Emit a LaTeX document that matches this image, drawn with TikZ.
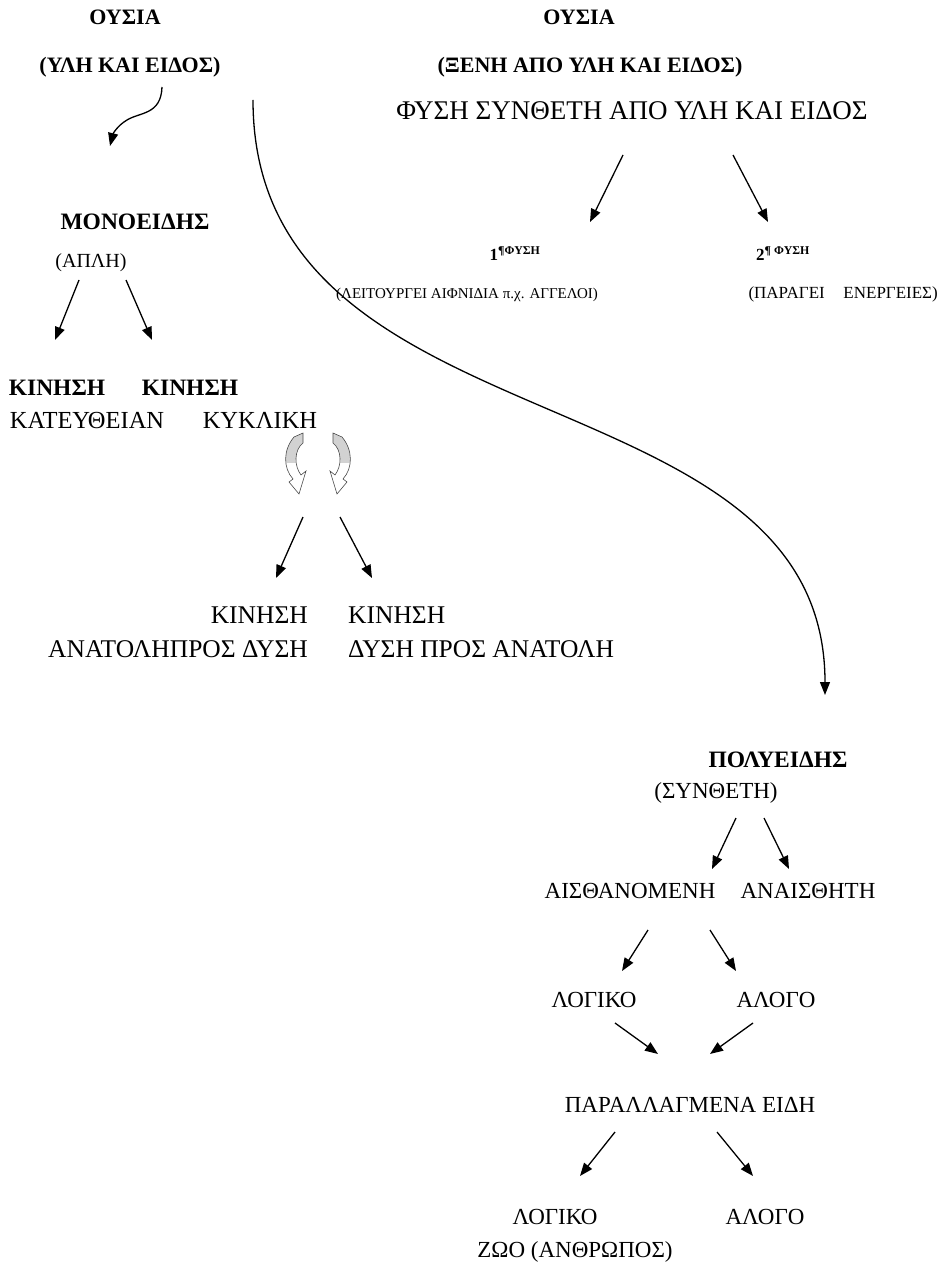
\documentclass[tikz,border=0pt]{standalone}
\usepackage{fontspec}
\setmainfont{Liberation Serif}
\usetikzlibrary{arrows.meta}

\tikzset{
  arr/.style={-{Triangle[length=13pt,width=10pt]}, line width=1.3pt},
  lbl/.style={inner sep=0pt, text height=1em, text depth=0pt},
  txt/.style={lbl, font=\fontsize{23}{27}\selectfont},
  midtxt/.style={lbl, font=\fontsize{24.5}{28}\selectfont},
  bigtxt/.style={lbl, font=\fontsize{25.5}{29}\selectfont},
  toptxt/.style={lbl, font=\fontsize{27}{31}\selectfont},
  smalltxt/.style={lbl, font=\fontsize{20}{24}\selectfont},
  boldtxt/.style={lbl, font=\fontsize{22}{26}\selectfont\bfseries},
  headtxt/.style={lbl, font=\fontsize{23.5}{27}\selectfont\bfseries},
  notetxt/.style={lbl, font=\fontsize{15}{18}\selectfont},
  numtxt/.style={lbl, font=\fontsize{17}{20}\selectfont\bfseries},
}

\begin{document}
\begin{tikzpicture}[x=1pt,y=-1pt]

\useasboundingbox (0,0) rectangle (944,1265);

% DRAW THE TWO "OUSIA" HEADS
\node[boldtxt] (ousiaL) at (125,20) {ΟΥΣΙΑ};
\node[boldtxt] (ylieidos) at (130,68) {(ΥΛΗ ΚΑΙ ΕΙΔΟΣ)};
\node[boldtxt] (ousiaR) at (579,20) {ΟΥΣΙΑ};
\node[boldtxt] (xeni) at (590,68) {(ΞΕΝΗ ΑΠΟ ΥΛΗ ΚΑΙ ΕΙΔΟΣ)};
\node[toptxt] (fysi) at (632,115) {ΦΥΣΗ ΣΥΝΘΕΤΗ ΑΠΟ ΥΛΗ ΚΑΙ ΕΙΔΟΣ};

% DRAW THE TWO NATURES
\node[numtxt] (fysiA) at (515,256) {1\textsuperscript{¶ΦΥΣΗ}};
\node[notetxt,anchor=west] (leitourgei) at (336,293) {(ΛΕΙΤΟΥΡΓΕΙ ΑΙΦΝΙΔΙΑ π.χ. ΑΓΓΕΛΟΙ)};
\node[numtxt] (fysiB) at (783,256) {2\textsuperscript{¶ ΦΥΣΗ}};
\node[notetxt,anchor=east,font=\fontsize{17}{20}\selectfont] (paragei) at (938,293) {(ΠΑΡΑΓΕΙ\hspace{1.1em}ΕΝΕΡΓΕΙΕΣ)};

\coordinate (fA1) at (623,155); \coordinate (fA2) at (590,222);
\coordinate (fB1) at (733,155); \coordinate (fB2) at (768,222);
\draw[arr] (fA1) -- (fA2);
\draw[arr] (fB1) -- (fB2);

% DRAW THE SIMPLE BRANCH
\coordinate (wav1) at (162,87); \coordinate (wav2) at (110,146);
\draw[arr] (wav1) .. controls (161,115) and (140,112) .. (127,120) .. controls (117,126) and (113,134) .. (wav2);

\node[headtxt] (monoeidis) at (135,225) {ΜΟΝΟΕΙΔΗΣ};
\node[smalltxt] (apli) at (91,262) {(ΑΠΛΗ)};

\coordinate (ap1) at (79,280); \coordinate (ap2) at (55,340);
\coordinate (ap3) at (126,280); \coordinate (ap4) at (152,340);
\draw[arr] (ap1) -- (ap2);
\draw[arr] (ap3) -- (ap4);

\node[headtxt] (kinA) at (57,390) {ΚΙΝΗΣΗ};
\node[midtxt] (eutheia) at (87,423) {ΚΑΤΕΥΘΕΙΑΝ};
\node[headtxt] (kinB) at (190,390) {ΚΙΝΗΣΗ};
\node[midtxt] (kykliki) at (260,423) {ΚΥΚΛΙΚΗ};

% DRAW THE CURLED HOLLOW ARROWS
\def\curlyarrow{(303,433) -- (294,437) .. controls (283,450) and (283,468) .. (293,479)
  -- (289,482) -- (299,494) -- (306,471) -- (301,475)
  .. controls (294,466) and (294,450) .. (303,443) -- cycle}
\foreach \sh/\sc in {0/1,636/-1}{
  \begin{scope}[shift={(\sh,0)},xscale=\sc]
    \fill[white] \curlyarrow;
    \begin{scope}
      \clip (270,425) rectangle (320,462);
      \fill[gray!35] \curlyarrow;
    \end{scope}
    \draw[line width=0.6pt,black!70] \curlyarrow;
  \end{scope}
}

\coordinate (ky1) at (303,517); \coordinate (ky2) at (276,578);
\coordinate (ky3) at (340,517); \coordinate (ky4) at (372,578);
\draw[arr] (ky1) -- (ky2);
\draw[arr] (ky3) -- (ky4);

\node[bigtxt,anchor=east] (kinC) at (308,618) {ΚΙΝΗΣΗ};
\node[bigtxt,anchor=east] (anatoli) at (308,652) {ΑΝΑΤΟΛΗΠΡΟΣ ΔΥΣΗ};
\node[bigtxt,anchor=west] (kinD) at (348,618) {ΚΙΝΗΣΗ};
\node[bigtxt,anchor=west] (dysi) at (348,652) {ΔΥΣΗ ΠΡΟΣ ΑΝΑΤΟΛΗ};

% DRAW THE LONG CURVE TO THE COMPOUND BRANCH
\coordinate (big1) at (253,100); \coordinate (big2) at (825,695);
\draw[arr] (big1) .. controls (253,455) and (825,365) .. (big2);

% DRAW THE COMPOUND BRANCH
\node[headtxt] (polyeidis) at (778,762) {ΠΟΛΥΕΙΔΗΣ};
\node[txt] (syntheti) at (716,793) {(ΣΥΝΘΕΤΗ)};

\coordinate (sy1) at (736,818); \coordinate (sy2) at (712,869);
\coordinate (sy3) at (764,818); \coordinate (sy4) at (789,869);
\draw[arr] (sy1) -- (sy2);
\draw[arr] (sy3) -- (sy4);

\node[txt] (aisth) at (630,893) {ΑΙΣΘΑΝΟΜΕΝΗ};
\node[txt] (anaisth) at (808,893) {ΑΝΑΙΣΘΗΤΗ};

\coordinate (ai1) at (648,930); \coordinate (ai2) at (622,971);
\coordinate (ai3) at (710,930); \coordinate (ai4) at (736,971);
\draw[arr] (ai1) -- (ai2);
\draw[arr] (ai3) -- (ai4);

\node[txt] (logikoA) at (594,1002) {ΛΟΓΙΚΟ};
\node[txt] (alogoA) at (776,1002) {ΑΛΟΓΟ};

\coordinate (lo1) at (615,1023); \coordinate (lo2) at (658,1054);
\coordinate (lo3) at (753,1023); \coordinate (lo4) at (710,1054);
\draw[arr] (lo1) -- (lo2);
\draw[arr] (lo3) -- (lo4);

\node[txt] (parallag) at (690,1107) {ΠΑΡΑΛΛΑΓΜΕΝΑ ΕΙΔΗ};

\coordinate (pa1) at (615,1132); \coordinate (pa2) at (580,1176);
\coordinate (pa3) at (717,1132); \coordinate (pa4) at (753,1176);
\draw[arr] (pa1) -- (pa2);
\draw[arr] (pa3) -- (pa4);

\node[txt] (logikoB) at (555,1219) {ΛΟΓΙΚΟ};
\node[txt] (alogoB) at (765,1219) {ΑΛΟΓΟ};
\node[txt] (zoo) at (575,1252) {ΖΩΟ (ΑΝΘΡΩΠΟΣ)};

\end{tikzpicture}
\end{document}
